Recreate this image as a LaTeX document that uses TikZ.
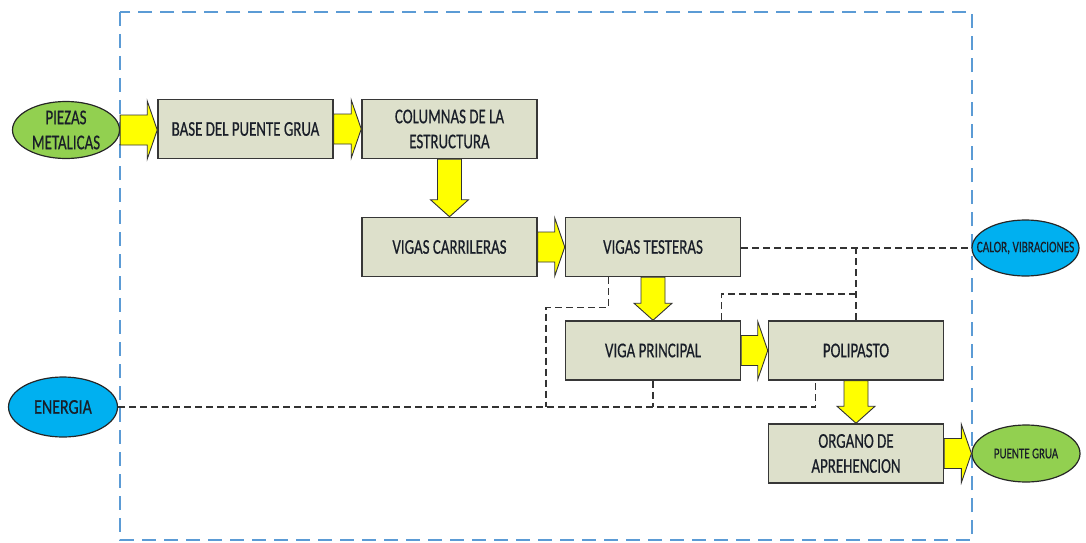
\documentclass[tikz,border=0pt]{standalone}
\usepackage{fontspec}
\setmainfont{Carlito}[FakeBold=0.6]
\usepackage{graphicx}
\usetikzlibrary{calc,shapes.geometric}
\definecolor{boxfill}{RGB}{221,224,203}
\definecolor{boxline}{RGB}{55,55,55}
\definecolor{ylw}{RGB}{255,255,0}
\definecolor{grn}{RGB}{146,208,80}
\definecolor{blu}{RGB}{0,176,240}
\definecolor{framecol}{RGB}{91,155,213}
\definecolor{txt}{RGB}{25,30,40}
\newcommand{\sq}[1]{\scalebox{0.71}[1]{#1}}
\newcommand{\sqe}[1]{\scalebox{0.76}[1]{#1}}
\newcommand{\rarr}[2]{\filldraw[blockarrow] let \p1=(#1.east), \p2=(#2.west) in
  (\x1,\y1+15) -- (\x2-10,\y1+15) -- (\x2-10,\y1+29) -- (\x2,\y1) -- (\x2-10,\y1-29) -- (\x2-10,\y1-15) -- (\x1,\y1-15) -- cycle;}
\newcommand{\darr}[2]{\filldraw[blockarrow] let \p1=(#1.south), \p2=(#2.north) in
  (\x1-12,\y1) -- (\x1-12,\y2+17) -- (\x1-19,\y2+17) -- (\x1,\y2) -- (\x1+19,\y2+17) -- (\x1+12,\y2+17) -- (\x1+12,\y1) -- cycle;}
\begin{document}
\begin{tikzpicture}[x=1pt,y=-1pt,
  every node/.style={font=\fontsize{21}{25}\selectfont, text=txt},
  stage/.style={draw=boxline, line width=1.5pt, fill=boxfill, minimum width=175pt, minimum height=59pt, inner sep=0pt, align=center},
  greenell/.style={ellipse, draw=black!85, line width=1.2pt, fill=grn, minimum width=107pt, minimum height=57pt, inner sep=0pt, align=center},
  blueell/.style={ellipse, draw=black!85, line width=1.2pt, fill=blu, minimum width=108pt, minimum height=56pt, inner sep=0pt, align=center},
  link/.style={draw=black!80, line width=1.3pt, dash pattern=on 7pt off 4pt},
  frameline/.style={draw=framecol, line width=1.8pt, dash pattern=on 14pt off 8pt},
  blockarrow/.style={fill=ylw, draw=black!80, line width=0.9pt, line join=miter}
]
\useasboundingbox (0,0) rectangle (1086,543);
\draw[frameline] (120,12) rectangle (972,540);

\node[greenell] (PZ) at (66,130) {\sq{PIEZAS}\\\sq{METALICAS}};
\node[stage] (BASE) at (245.5,129) {\sq{BASE DEL PUENTE GRUA}};
\node[stage] (COL) at (449.5,129) {\sq{COLUMNAS DE LA}\\\sq{ESTRUCTURA}};
\node[stage] (VC) at (449.5,247) {\sq{VIGAS CARRILERAS}};
\node[stage] (TEST) at (653,247) {\sq{VIGAS TESTERAS}};
\node[stage] (VP) at (653,350.5) {\sq{VIGA PRINCIPAL}};
\node[stage] (POL) at (856,350.5) {\sq{POLIPASTO}};
\node[stage] (ORG) at (856,453.5) {\sq{ORGANO DE}\\\sq{APREHENCION}};
\node[greenell, minimum width=108pt, minimum height=57pt, font=\fontsize{15}{18}\selectfont] (PG) at (1026,453.5) {\makebox[0pt]{\scalebox{0.73}[1]{PUENTE GRUA}}};
\node[blueell, minimum width=107pt, minimum height=56pt, font=\fontsize{16}{19}\selectfont] (CAL) at (1025.5,248) {\makebox[0pt]{\scalebox{0.70}[1]{CALOR, VIBRACIONES}}};
\node[blueell, minimum width=109pt, minimum height=60pt] (EN) at (63,407) {\makebox[0pt]{\sqe{ENERGIA}}};

% dashed relations
\coordinate (j1) at (TEST.east -| POL.north);
\coordinate (j2) at (856,294);
\coordinate (vpT) at ($(VP.north east)+(-20,0)$);
\coordinate (tB) at ($(TEST.south west)+(44,0)$);
\coordinate (pB) at ($(POL.south west)+(48,0)$);
\draw[link] (TEST.east |- CAL.west) -- (CAL.west);
\draw[link] (j1) -- (POL.north);
\draw[link] (vpT) |- (j2);
\draw[link] (tB) -- ++(0,30) -| (546,407);
\draw[link] (EN.east) -- (pB |- EN.east) -- (pB);
\draw[link] (VP.south) -- (VP.south |- EN.east);

% block arrows
\rarr{PZ}{BASE}
\rarr{BASE}{COL}
\darr{COL}{VC}
\rarr{VC}{TEST}
\darr{TEST}{VP}
\rarr{VP}{POL}
\darr{POL}{ORG}
\rarr{ORG}{PG}
\end{tikzpicture}
\end{document}
